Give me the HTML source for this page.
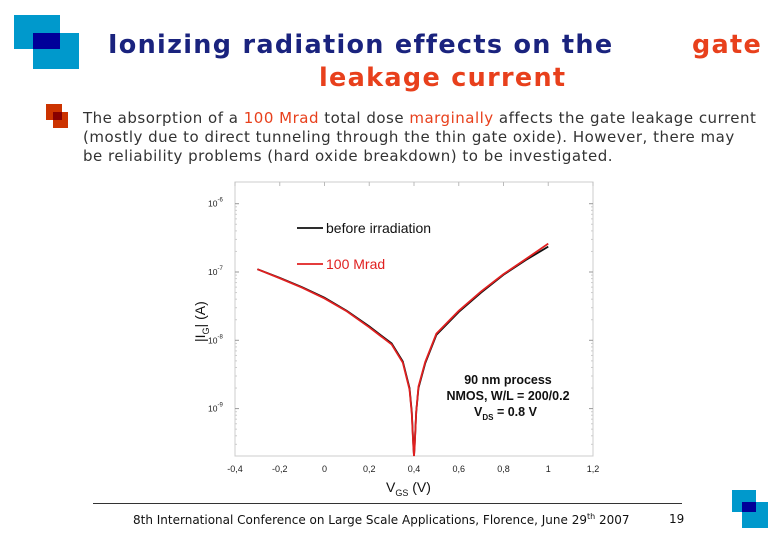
<!DOCTYPE html>
<html><head><meta charset="utf-8"><style>
body{margin:0;width:780px;height:540px;background:#fff;position:relative;overflow:hidden;font-family:"DejaVu Sans","Liberation Sans",sans-serif}
.a{position:absolute;white-space:nowrap}
.t{font-weight:bold;font-size:25.5px;letter-spacing:1.3px;color:#1a237e}
.b{font-size:15px;letter-spacing:0.5px;color:#333;left:83px}
</style></head><body>
<div class="a" style="left:14px;top:15px;width:80px;height:60px">
<div class="a" style="left:0;top:0;width:46px;height:34px;background:#0099cc"></div>
<div class="a" style="left:19px;top:18px;width:46px;height:36px;background:#0099cc"></div>
<div class="a" style="left:19px;top:18px;width:27px;height:16px;background:#000099"></div></div>
<div class="a t" style="left:108px;top:30px">Ionizing radiation effects on the</div>
<div class="a t" style="left:692px;top:30px;color:#e8401c">gate</div>
<div class="a t" style="left:319px;top:63px;color:#e8401c">leakage current</div>
<div class="a" style="left:46px;top:104px;width:23px;height:24px">
<div class="a" style="left:0;top:0;width:16px;height:16px;background:#cc3300"></div>
<div class="a" style="left:7px;top:8px;width:15px;height:16px;background:#cc3300"></div>
<div class="a" style="left:7px;top:8px;width:9px;height:8px;background:#880000"></div></div>
<div class="a b" style="top:109px">The absorption of a <span style="color:#e8401c">100 Mrad</span> total dose <span style="color:#e8401c">marginally</span> affects the gate leakage current</div>
<div class="a b" style="top:128px">(mostly due to direct tunneling through the thin gate oxide). However, there may</div>
<div class="a b" style="top:147px">be reliability problems (hard oxide breakdown) to be investigated.</div>

<svg class="a" style="left:0;top:0" width="780" height="540" id="ch"></svg>

<div class="a" style="left:93px;top:503px;width:589px;height:1px;background:#333"></div>
<div class="a" style="left:133px;top:512px;font-size:12px;color:#111">8th International Conference on Large Scale Applications, Florence, June 29<sup style="font-size:8px">th</sup> 2007</div>
<div class="a" style="left:669px;top:512px;font-size:12px;color:#111">19</div>
<div class="a" style="left:732px;top:490px;width:40px;height:40px">
<div class="a" style="left:0;top:0;width:24px;height:22px;background:#0099cc"></div>
<div class="a" style="left:10px;top:12px;width:26px;height:26px;background:#0099cc"></div>
<div class="a" style="left:10px;top:12px;width:14px;height:10px;background:#000099"></div></div>

<script>
const xTicks=[-0.4,-0.2,0,0.2,0.4,0.6,0.8,1,1.2];
const xTickLabels=["-0,4","-0,2","0","0,2","0,4","0,6","0,8","1","1,2"];
const yTicks=[-6,-7,-8,-9];
const yTickLabels=["10","10","10","10"];
const yTickExps=["-6","-7","-8","-9"];
const vgs=[-0.3,-0.2,-0.1,0,0.1,0.2,0.3,0.35,0.38,0.39,0.397,0.4,0.403,0.41,0.42,0.45,0.5,0.6,0.7,0.8,0.9,1.0];
const beforeI=[1.1e-7,8.2e-8,6.0e-8,4.2e-8,2.7e-8,1.6e-8,9.0e-9,4.9e-9,2.0e-9,9e-10,3e-10,1e-10,3e-10,9e-10,2.0e-9,4.6e-9,1.2e-8,2.6e-8,5.0e-8,9.1e-8,1.5e-7,2.35e-7];
const mradI=[1.1e-7,8.1e-8,5.9e-8,4.1e-8,2.65e-8,1.55e-8,8.7e-9,4.7e-9,1.9e-9,8.5e-10,2.8e-10,1e-10,2.8e-10,9e-10,2.1e-9,4.8e-9,1.25e-8,2.7e-8,5.2e-8,9.3e-8,1.55e-7,2.6e-7];
const NS="http://www.w3.org/2000/svg",svg=document.getElementById('ch');
const L=235,R=593,T=182,B=456;
const xs=v=>L+(v+0.4)/1.6*(R-L);
const ys=i=>{const y=272+(-7-Math.log10(i))*68.3;return Math.min(B,y);};
function el(t,a,p){const e=document.createElementNS(NS,t);for(const k in a)e.setAttribute(k,a[k]);(p||svg).appendChild(e);return e;}
const fr=el('rect',{x:L,y:T,width:R-L,height:B-T,fill:'none',stroke:'#ccc','stroke-width':1});


xTicks.forEach((v,i)=>{const t=el('text',{x:xs(v),y:472,'font-size':9,'text-anchor':'middle',fill:'#222','font-family':'Liberation Sans'});t.textContent=xTickLabels[i];


el('line',{x1:xs(v),x2:xs(v),y1:T,y2:T+4,stroke:'#bbb'});});
yTicks.forEach((d,i)=>{const y=ys(Math.pow(10,d));const t=el('text',{x:208,y:y+3,'font-size':8.5,fill:'#222','font-family':'Liberation Sans'});t.textContent=yTickLabels[i];


const s=el('tspan',{dy:-5,'font-size':6},t);s.textContent=yTickExps[i];
el('line',{x1:L,x2:L+4,y1:y,y2:y,stroke:'#999'});el('line',{x1:R-4,x2:R,y1:y,y2:y,stroke:'#999'});
for(let k=2;k<10;k++){const yy=ys(Math.pow(10,d-1)*k);if(yy<B){el('line',{x1:L,x2:L+2,y1:yy,y2:yy,stroke:'#ccc'});el('line',{x1:R-2,x2:R,y1:yy,y2:yy,stroke:'#ccc'});}}});
function series(vals,col,name){const p=el('polyline',{points:vgs.map((v,i)=>xs(v)+','+ys(vals[i])).join(' '),fill:'none',stroke:col,'stroke-width':1.8});

}
series(beforeI,'#111','series-before-irradiation');
series(mradI,'#e02020','series-100-mrad');
el('line',{x1:297,x2:323,y1:228,y2:228,stroke:'#111','stroke-width':1.8});
const l1=el('text',{x:326,y:233,'font-size':14,fill:'#111','font-family':'Liberation Sans'});l1.textContent='before irradiation';


el('line',{x1:297,x2:323,y1:264,y2:264,stroke:'#e02020','stroke-width':1.8});
const l2=el('text',{x:326,y:269,'font-size':14,fill:'#e02020','font-family':'Liberation Sans'});l2.textContent='100 Mrad';


[['90 nm process',384],['NMOS, W/L = 200/0.2',400]].forEach(a=>{const t=el('text',{x:508,y:a[1],'font-size':12.5,'font-weight':'bold','text-anchor':'middle',fill:'#111','font-family':'Liberation Sans'});t.textContent=a[0];

});
const v=el('text',{x:474,y:416,'font-size':12.5,'font-weight':'bold',fill:'#111','font-family':'Liberation Sans'});v.textContent='V';


const vs=el('tspan',{dy:4,'font-size':8},v);vs.textContent='DS';const vr=el('tspan',{dy:-4},v);vr.textContent=' = 0.8 V';
const xl=el('text',{x:386,y:492,'font-size':14,fill:'#111','font-family':'Liberation Sans'});xl.textContent='V';


const xs1=el('tspan',{dy:4,'font-size':9},xl);xs1.textContent='GS';const xs2=el('tspan',{dy:-4},xl);xs2.textContent=' (V)';
const yl=el('text',{x:0,y:0,'font-size':14,fill:'#111','font-family':'Liberation Sans',transform:'translate(205,342) rotate(-90)'});yl.textContent='|I';


const ys1=el('tspan',{dy:4,'font-size':9},yl);ys1.textContent='G';const ys2=el('tspan',{dy:-4},yl);ys2.textContent='| (A)';
</script>
</body></html>
